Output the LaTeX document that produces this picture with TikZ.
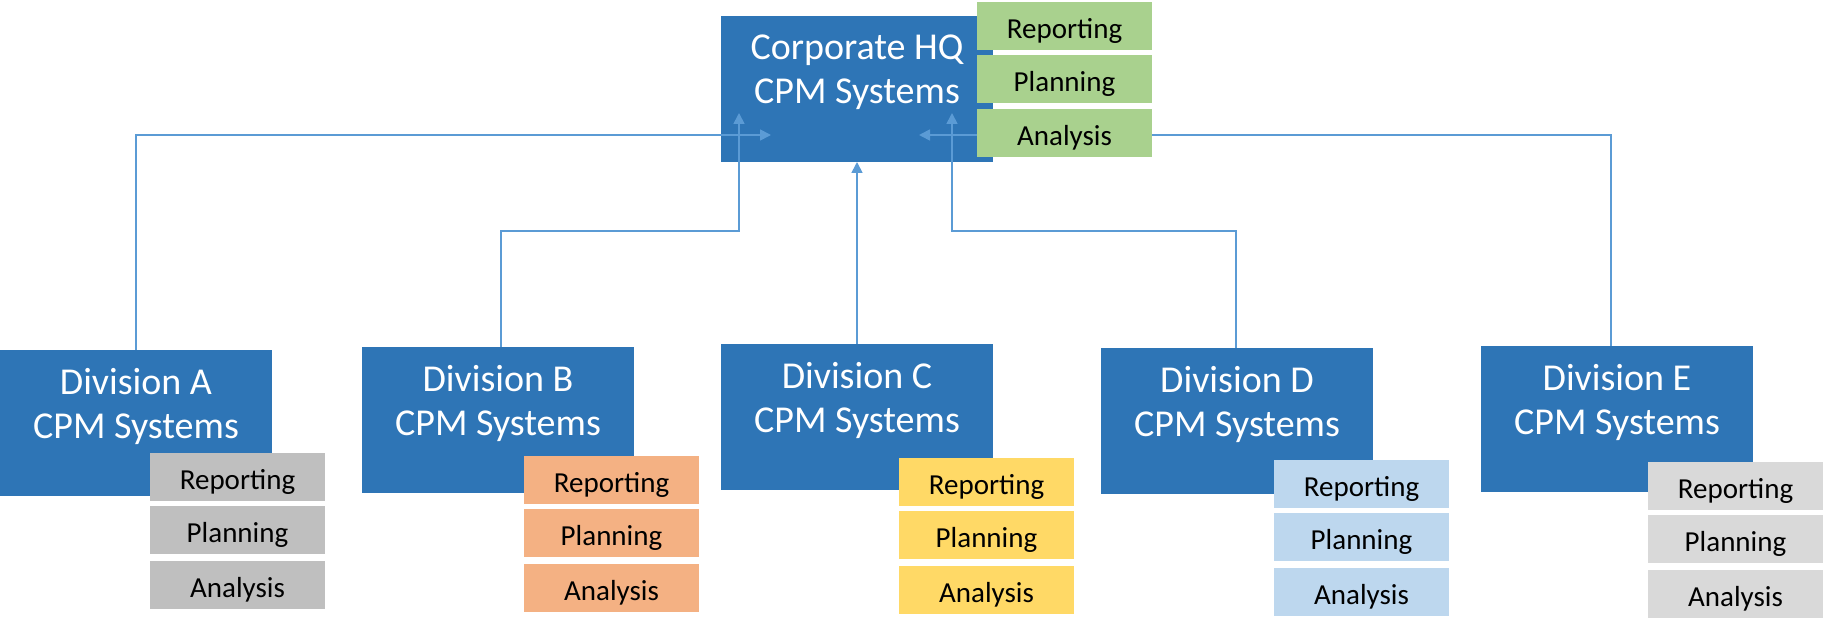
\documentclass[tikz,border=0pt]{standalone}
\usepackage{fontspec}
\setmainfont{Carlito}
\usetikzlibrary{arrows.meta}
\definecolor{boxblue}{HTML}{2E75B6}
\definecolor{linkblue}{HTML}{5B9BD5}
\definecolor{subgreen}{HTML}{A9D18E}
\definecolor{subgrayA}{HTML}{BFBFBF}
\definecolor{suborange}{HTML}{F4B183}
\definecolor{subyellow}{HTML}{FFD966}
\definecolor{sublblue}{HTML}{BDD7EE}
\definecolor{subgrayE}{HTML}{D9D9D9}
\begin{document}
\begin{tikzpicture}[x=1pt,y=-1pt,
  bigbox/.style={fill=boxblue, draw=none, minimum width=272pt, minimum height=146pt, inner sep=0pt, outer sep=0pt, anchor=north west},
  bigtext/.style={text=white, font=\fontsize{38}{44}\selectfont, align=center, inner sep=0pt, anchor=north},
  subbox/.style={draw=none, minimum width=175pt, minimum height=48pt, inner sep=0pt, outer sep=0pt, anchor=north west, font=\fontsize{29}{34}\selectfont, text height=25pt, text depth=0pt},
  conn/.style={draw=linkblue, line width=1.7pt, -{Triangle[length=11pt,width=11pt]}}
]
\useasboundingbox (0,0) rectangle (1823,631);
\fill[white] (0,0) rectangle (1823,631);

% division boxes
\node[bigbox] (A) at (0,350) {};
\node[bigbox] (B) at (362,347) {};
\node[bigbox] (C) at (721,344) {};
\node[bigbox] (D) at (1101,348) {};
\node[bigbox] (E) at (1481,346) {};
\node[bigtext] (At) at (136,365) {\rule{0pt}{29pt}Division A\\CPM Systems};
\node[bigtext] (Bt) at (498,362) {\rule{0pt}{29pt}Division B\\CPM Systems};
\node[bigtext] (Ct) at (857,359) {\rule{0pt}{29pt}Division C\\CPM Systems};
\node[bigtext] (Dt) at (1237,363) {\rule{0pt}{29pt}Division D\\CPM Systems};
\node[bigtext] (Et) at (1617,361) {\rule{0pt}{29pt}Division E\\CPM Systems};

% division sub-boxes
\foreach \n/\x/\y/\c in {A/150/453/subgrayA, B/524/456/suborange, C/899/458/subyellow, D/1274/460/sublblue, E/1648/462/subgrayE}{
  \node[subbox, fill=\c] (\n-rep) at (\x,\y) {Reporting};
  \node[subbox, fill=\c] (\n-pla) at (\x,\y+53) {Planning};
  \node[subbox, fill=\c] (\n-ana) at (\x,\y+108) {Analysis};
}

% HQ
\node[bigbox] (HQ) at (721,16) {};
\node[bigtext] (HQt) at (857,30) {\rule{0pt}{29pt}Corporate HQ\\CPM Systems};

% connectors
\coordinate (hqA) at (771,135);
\coordinate (bJog) at (739,231);
\coordinate (hqB) at (739,113);
\coordinate (dJog) at (952,231);
\coordinate (hqD) at (952,113);
\coordinate (hqE) at (919,135);
\draw[conn] (A.north) |- (hqA);
\draw[conn] ([xshift=3pt]B.north) |- (bJog) -- (hqB);
\draw[conn] (C.north) -- (HQ.south);
\draw[conn] ([xshift=-1pt]D.north) |- (dJog) -- (hqD);
\draw[conn] ([xshift=-6pt]E.north) |- (hqE);

% HQ sub-boxes
\node[subbox, fill=subgreen] (HQ-rep) at (977,2) {Reporting};
\node[subbox, fill=subgreen] (HQ-pla) at (977,55) {Planning};
\node[subbox, fill=subgreen] (HQ-ana) at (977,109) {Analysis};
\end{tikzpicture}
\end{document}
